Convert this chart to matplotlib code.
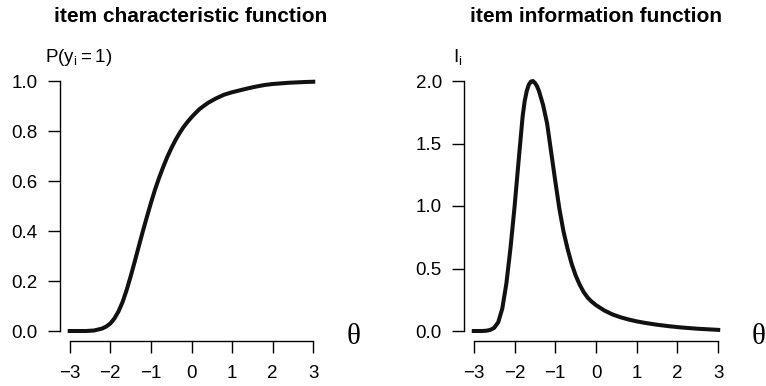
import matplotlib
matplotlib.use('Agg')
import matplotlib.pyplot as plt

plt.rcParams['font.family'] = ['Liberation Sans', 'DejaVu Sans']
plt.rcParams['mathtext.default'] = 'regular'

# item characteristic function
iccTheta = [-3.0, -2.6, -2.4, -2.2, -2.1, -2.0, -1.9, -1.8, -1.7, -1.6, -1.5, -1.4, -1.3, -1.2,
            -1.1, -1.0, -0.9, -0.8, -0.7, -0.6, -0.5, -0.4, -0.3, -0.2, -0.1, 0.0, 0.1, 0.2,
            0.4, 0.6, 0.8, 1.0, 1.2, 1.4, 1.6, 1.8, 2.0, 2.4, 2.8, 3.0]
iccProb = [0.0, 0.0, 0.002, 0.01, 0.018, 0.03, 0.05, 0.078, 0.115, 0.163, 0.218, 0.277, 0.338, 0.398,
           0.456, 0.512, 0.565, 0.612, 0.655, 0.695, 0.73, 0.762, 0.79, 0.815, 0.836, 0.855, 0.872, 0.888,
           0.912, 0.93, 0.945, 0.955, 0.963, 0.971, 0.978, 0.984, 0.988, 0.993, 0.996, 0.997]

# item information function
infoTheta = [-3.0, -2.8, -2.7, -2.6, -2.5, -2.4, -2.3, -2.2, -2.1, -2.0, -1.9, -1.8, -1.75, -1.7,
             -1.65, -1.6, -1.55, -1.5, -1.45, -1.4, -1.3, -1.2, -1.1, -1.0, -0.9, -0.8, -0.7, -0.6,
             -0.5, -0.4, -0.3, -0.2, -0.1, 0.0, 0.2, 0.4, 0.6, 0.8, 1.0, 1.2, 1.5, 1.8, 2.1, 2.5, 3.0]
infoValue = [0.0, 0.0, 0.002, 0.008, 0.025, 0.07, 0.18, 0.38, 0.66, 0.99, 1.36, 1.72, 1.84, 1.92,
             1.97, 1.995, 2.0, 1.985, 1.96, 1.92, 1.81, 1.66, 1.43, 1.20, 0.98, 0.80, 0.66, 0.54,
             0.445, 0.37, 0.31, 0.265, 0.233, 0.207, 0.165, 0.133, 0.11, 0.092, 0.077, 0.065, 0.05,
             0.038, 0.028, 0.018, 0.009]

xTicks = [-3, -2, -1, 0, 1, 2, 3]
iccTicks = [0.0, 0.2, 0.4, 0.6, 0.8, 1.0]
infoTicks = [0.0, 0.5, 1.0, 1.5, 2.0]


def styleAxis(ax, yTicks):
    for side in ['top', 'right']:
        ax.spines[side].set_visible(False)
    ax.spines['left'].set_bounds(yTicks[0], yTicks[-1])
    ax.spines['bottom'].set_bounds(xTicks[0], xTicks[-1])
    for side in ['left', 'bottom']:
        ax.spines[side].set_linewidth(1.0)
    ax.set_xticks(xTicks)
    ax.set_xticklabels([str(t).replace('-', '\u2212') for t in xTicks])
    ax.set_yticks(yTicks)
    ax.set_yticklabels([f'{t:.1f}' for t in yTicks])
    ax.tick_params(direction='out', length=8.5, width=1.0, labelsize=13.5)
    ax.tick_params(axis='x', pad=9)
    ax.tick_params(axis='y', pad=7.5)
    ax.set_xlim(-3.24, 3.24)
    pad = (yTicks[-1] - yTicks[0]) * 0.04
    ax.set_ylim(yTicks[0] - pad, yTicks[-1] + pad)


fig = plt.figure(figsize=(7.66, 3.86), dpi=100)
axLeft = fig.add_axes([60 / 766, 45 / 386, 263 / 766, 270 / 386])
axRight = fig.add_axes([464 / 766, 45 / 386, 264 / 766, 270 / 386])

axLeft.plot(iccTheta, iccProb, color='#111111', linewidth=2.9, solid_joinstyle='round')
styleAxis(axLeft, iccTicks)
axRight.plot(infoTheta, infoValue, color='#111111', linewidth=2.9, solid_joinstyle='round')
styleAxis(axRight, infoTicks)

fig.text(191 / 766, 1 - 16 / 386, 'item characteristic function', ha='center', va='center',
         fontsize=15, fontweight='bold')
fig.text(596 / 766, 1 - 16 / 386, 'item information function', ha='center', va='center',
         fontsize=15, fontweight='bold')
fig.text(45 / 766, 1 - 57 / 386, r'$P(y_i = 1)$', ha='left', va='center', fontsize=13.5)
fig.text(458 / 766, 1 - 57 / 386, r'$I_i$', ha='center', va='center', fontsize=13.5)
fig.text(354 / 766, 1 - 337 / 386, '\u03b8', ha='center', va='center', fontsize=21,
         family=['Liberation Serif', 'DejaVu Serif'])
fig.text(759 / 766, 1 - 337 / 386, '\u03b8', ha='center', va='center', fontsize=21,
         family=['Liberation Serif', 'DejaVu Serif'])

fig.savefig('out.png', dpi=100)
